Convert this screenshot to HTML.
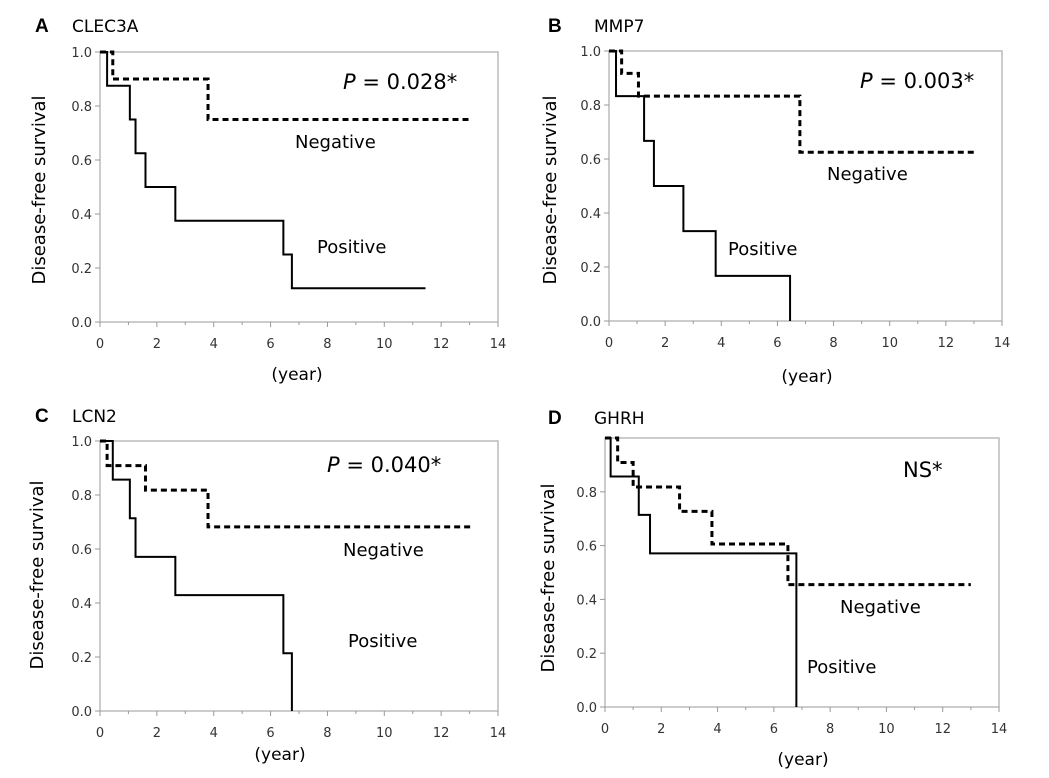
<!DOCTYPE html>
<html><head><meta charset="utf-8"><style>
body{margin:0;background:#fff;}
svg{display:block;font-family:"DejaVu Sans","Liberation Sans",sans-serif;}
</style></head><body>
<svg id="fig" width="1049" height="778" viewBox="0 0 1049 778"></svg>
<script>
// ---- data ----
const xTicks = [0,2,4,6,8,10,12,14];
const yTicks = [0,0.2,0.4,0.6,0.8,1.0];
const yTickLabels = ["0.0","0.2","0.4","0.6","0.8","1.0"];
const panelLetters = ["A","B","C","D"];
const panelGenes = ["CLEC3A","MMP7","LCN2","GHRH"];
const panelStats = ["= 0.028*","= 0.003*","= 0.040*","NS*"];
const negTimesA = [0,0.45,3.8,13.1];     const negSurvA = [1,0.9,0.75,0.75];
const posTimesA = [0,0.25,1.05,1.25,1.6,2.65,6.45,6.75,11.45]; const posSurvA = [1,0.875,0.75,0.625,0.5,0.375,0.25,0.125,0.125];
const negTimesB = [0,0.45,1.05,6.8,13.0]; const negSurvB = [1,0.917,0.833,0.625,0.625];
const posTimesB = [0,0.25,1.25,1.6,2.65,3.8,6.45]; const posSurvB = [1,0.833,0.667,0.5,0.333,0.167,0];
const negTimesC = [0,0.25,1.6,3.8,13.1]; const negSurvC = [1,0.909,0.818,0.682,0.682];
const posTimesC = [0,0.45,1.05,1.25,2.65,6.45,6.75]; const posSurvC = [1,0.857,0.714,0.571,0.429,0.214,0];
const negTimesD = [0,0.45,1.0,2.65,3.8,6.5,13.0]; const negSurvD = [1,0.909,0.818,0.727,0.606,0.455,0.455];
const posTimesD = [0,0.2,1.2,1.6,6.8]; const posSurvD = [1,0.857,0.714,0.571,0];

const NS="http://www.w3.org/2000/svg";
const svg=document.getElementById('fig');
function mk(tag,attrs,parent,text){const e=document.createElementNS(NS,tag);for(const k in attrs)e.setAttribute(k,attrs[k]);if(text!==undefined)e.textContent=text;(parent||svg).appendChild(e);return e;}

const panels=[
 {L:100,R:498,T:52,B:322,neg:[negTimesA,negSurvA],pos:[posTimesA,posSurvA],showTop:true,
  letter:[35,32],gene:[72,32],ylab:[39,190],xlab:[297,380],stat:[343,89],negLab:[295,148],posLab:[317,253],p:true},
 {L:609,R:1002,T:51,B:321,neg:[negTimesB,negSurvB],pos:[posTimesB,posSurvB],showTop:true,
  letter:[548,32],gene:[594,32],ylab:[550,190],xlab:[807,382],stat:[860,88],negLab:[827,180],posLab:[728,255],p:true},
 {L:100,R:498,T:441,B:711,neg:[negTimesC,negSurvC],pos:[posTimesC,posSurvC],showTop:true,
  letter:[35,422],gene:[72,422],ylab:[37,575],xlab:[280,760],stat:[327,472],negLab:[343,556],posLab:[348,647],p:true},
 {L:605,R:999,T:438,B:707,neg:[negTimesD,negSurvD],pos:[posTimesD,posSurvD],showTop:false,
  letter:[548,424],gene:[594,424],ylab:[548,578],xlab:[803,765],stat:[903,477],negLab:[840,613],posLab:[807,673],p:false}
];

panels.forEach((p,i)=>{
  const g=mk('g',{});
  
  
  const xs=v=>p.L+(p.R-p.L)*v/14;
  const ys=v=>p.B-(p.B-p.T)*v;
  const box=mk('rect',{x:p.L,y:p.T,width:p.R-p.L,height:p.B-p.T,fill:'none',stroke:'#bbb','stroke-width':1.5},g);
  
  
  for(let t=0;t<=14;t++){mk('line',{x1:xs(t),x2:xs(t),y1:p.B,y2:p.B+(t%2?3:5),stroke:'#999','stroke-width':1},g);}
  xTicks.forEach(t=>{const e=mk('text',{x:xs(t),y:p.B+26,'text-anchor':'middle','font-size':13,fill:'#333'},g,String(t));
    
    });
  yTicks.forEach((t,j)=>{ if(!p.showTop && t===1.0) return;
    mk('line',{x1:p.L-5,x2:p.L,y1:ys(t),y2:ys(t),stroke:'#999','stroke-width':1},g);
    const e=mk('text',{x:p.L-8,y:ys(t)+5,'text-anchor':'end','font-size':13,fill:'#333'},g,yTickLabels[j]);
    
    });
  function step2(times,surv){let d='M'+xs(times[0])+','+ys(surv[0]);
    for(let k=1;k<times.length;k++){d+=' H'+xs(times[k])+' V'+ys(surv[k]);}return d;}
  const neg=mk('path',{d:step2(p.neg[0],p.neg[1]),fill:'none',stroke:'#000','stroke-width':3,'stroke-dasharray':'6,4'},g);
  
  
  const pos=mk('path',{d:step2(p.pos[0],p.pos[1]),fill:'none',stroke:'#000','stroke-width':2},g);
  
  
  const lt=mk('text',{x:p.letter[0],y:p.letter[1],'font-size':19,'font-weight':'bold','font-family':'Liberation Sans, sans-serif'},g,panelLetters[i]);
  
  
  const gn=mk('text',{x:p.gene[0],y:p.gene[1],'font-size':17},g,panelGenes[i]);
  
  
  const yl=mk('text',{x:0,y:0,'font-size':18,'text-anchor':'middle',transform:`translate(${p.ylab[0]+6},${p.ylab[1]}) rotate(-90)`},g,'Disease-free survival');
  
  
  const xl=mk('text',{x:p.xlab[0],y:p.xlab[1],'font-size':17,'text-anchor':'middle'},g,'(year)');
  
  
  const st=mk('text',{x:p.stat[0],y:p.stat[1],'font-size':21},g);
  
  
  if(p.p){mk('tspan',{'font-style':'italic'},st,'P');mk('tspan',{},st,' '+panelStats[i]);} else st.textContent=panelStats[i];
  const nl=mk('text',{x:p.negLab[0],y:p.negLab[1],'font-size':18},g,'Negative');
  
  
  const pl=mk('text',{x:p.posLab[0],y:p.posLab[1],'font-size':18},g,'Positive');
  
  
});
</script>
</body></html>
